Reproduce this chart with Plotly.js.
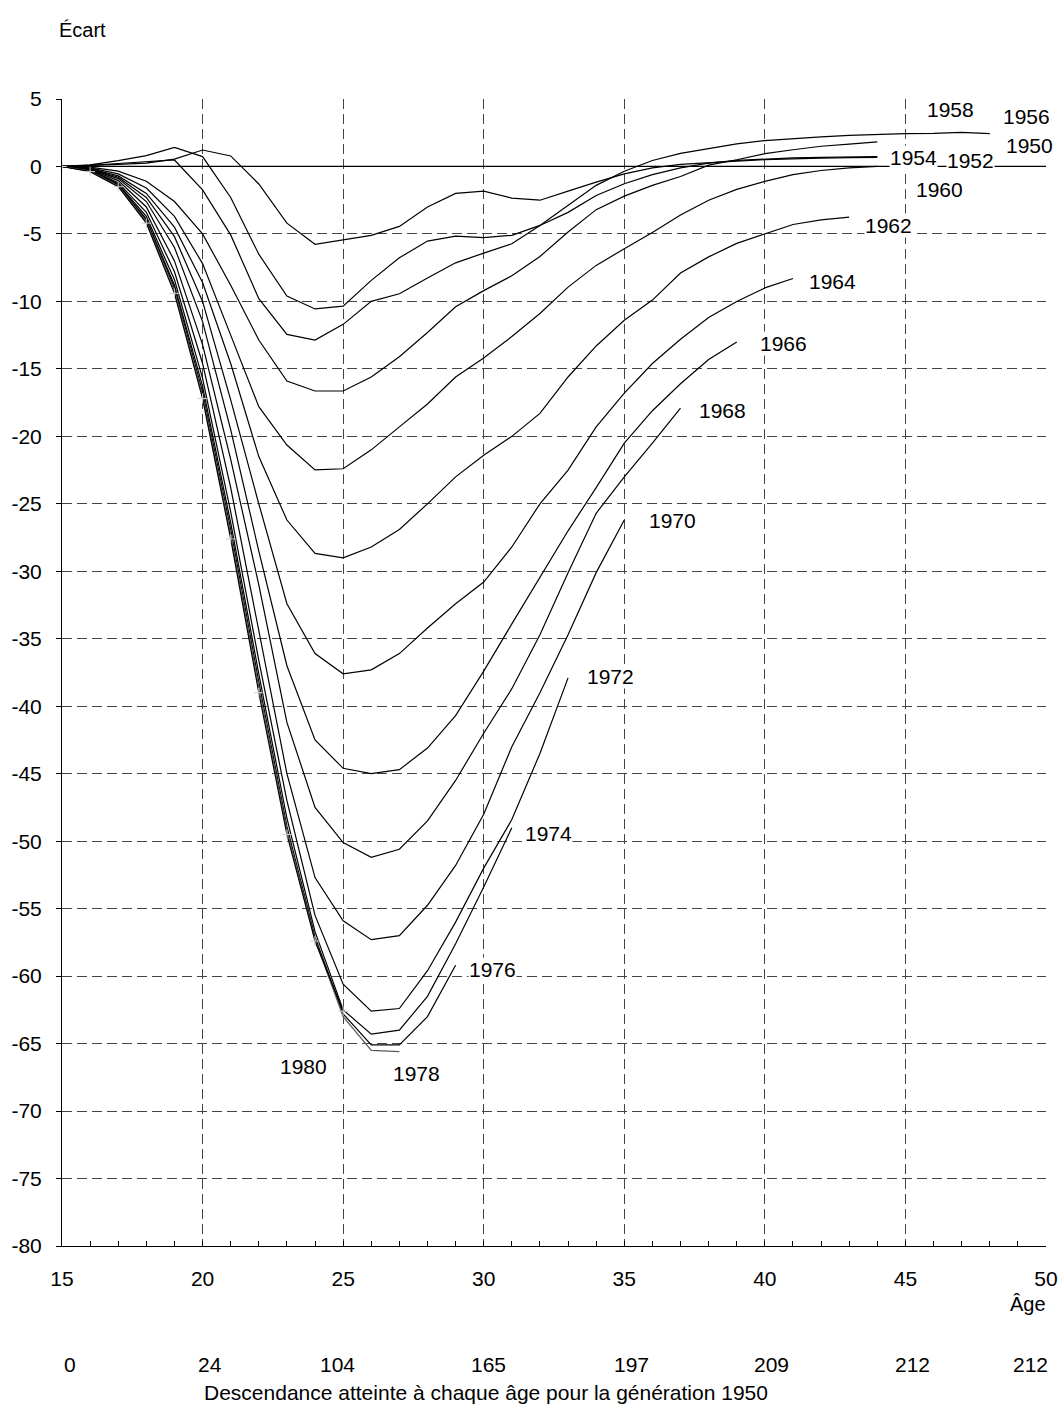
<!DOCTYPE html>
<html>
<head>
<meta charset="utf-8">
<script src="https://cdn.plot.ly/plotly-3.0.1.min.js"></script>
<style>html,body{margin:0;padding:0;background:#fff;}#chart{width:1063px;height:1405px;}</style>
</head>
<body>
<div id="chart"></div>
<script>
// Ages (x axis)
const ages = [15,16,17,18,19,20,21,22,23,24,25,26,27,28,29,30,31,32,33,34,35,36,37,38,39,40,41,42,43,44,45,46,47,48,49,50];

// Écart of cumulated fertility vs generation 1950, one array per generation, starting at age 15
const g1950 = [0,0,0,0,0,0,0,0,0,0,0,0,0,0,0,0,0,0,0,0,0,0,0,0,0,0,0,0,0,0,0,0,0,0,0,0];
const g1952 = [0,0.05,0.15,0.25,0.55,1.22,0.78,-1.3,-4.2,-5.77,-5.43,-5.1,-4.44,-3.0,-2.0,-1.83,-2.35,-2.5,-1.83,-1.16,-0.55,-0.1,0.15,0.3,0.4,0.5,0.58,0.62,0.65,0.67];
const g1954 = [0,0.12,0.43,0.8,1.42,0.73,-2.3,-6.5,-9.6,-10.56,-10.35,-8.44,-6.77,-5.53,-5.16,-5.28,-5.1,-4.37,-3.4,-2.15,-1.28,-0.6,-0.1,0.25,0.45,0.55,0.63,0.68,0.72,0.74];
const g1956 = [0,0.08,0.22,0.35,0.48,-1.74,-5.07,-9.8,-12.44,-12.86,-11.7,-10.0,-9.43,-8.27,-7.14,-6.42,-5.73,-4.37,-2.9,-1.4,-0.35,0.44,0.97,1.35,1.68,1.92,2.08,2.2,2.3,2.38,2.44,2.46,2.53,2.43];
const g1958 = [0,-0.05,-0.35,-1.1,-2.6,-5.0,-8.8,-12.86,-15.9,-16.64,-16.64,-15.6,-14.1,-12.3,-10.4,-9.2,-8.1,-6.67,-4.86,-3.2,-2.2,-1.4,-0.74,0.1,0.5,0.95,1.24,1.5,1.66,1.83];
const g1960 = [0,-0.1,-0.55,-1.6,-3.7,-7.2,-12.5,-17.8,-20.64,-22.49,-22.4,-21.0,-19.3,-17.6,-15.6,-14.2,-12.6,-10.9,-8.94,-7.33,-6.1,-4.9,-3.6,-2.5,-1.7,-1.1,-0.6,-0.3,-0.1,0];
const g1962 = [0,-0.15,-0.7,-2.0,-4.5,-8.6,-14.6,-21.5,-26.2,-28.67,-29.0,-28.2,-26.9,-25.0,-23.0,-21.4,-20.0,-18.3,-15.6,-13.3,-11.4,-9.9,-7.9,-6.7,-5.7,-5.0,-4.3,-3.96,-3.76];
const g1964 = [0,-0.18,-0.8,-2.3,-5.2,-10.0,-17.3,-25.0,-32.4,-36.1,-37.6,-37.3,-36.1,-34.2,-32.4,-30.8,-28.2,-25.0,-22.5,-19.3,-16.8,-14.6,-12.8,-11.2,-10.0,-9.0,-8.3];
const g1966 = [0,-0.2,-0.9,-2.6,-6.0,-11.5,-19.5,-28.5,-37.0,-42.5,-44.6,-45.0,-44.7,-43.1,-40.7,-37.4,-33.9,-30.5,-27.0,-23.8,-20.5,-18.1,-16.1,-14.3,-13.0];
const g1968 = [0,-0.22,-1.05,-3.0,-7.0,-13.2,-21.7,-31.0,-41.2,-47.5,-50.1,-51.2,-50.6,-48.5,-45.5,-42.0,-38.7,-34.7,-30.1,-25.7,-23.0,-20.5,-17.9];
const g1970 = [0,-0.25,-1.2,-3.4,-7.8,-14.6,-23.8,-34.3,-45.0,-52.7,-55.9,-57.3,-57.0,-54.75,-51.8,-48.0,-43.0,-39.0,-34.7,-30.1,-26.2];
const g1972 = [0,-0.28,-1.3,-3.7,-8.4,-15.7,-25.6,-36.6,-47.0,-55.5,-60.6,-62.6,-62.4,-59.6,-56.0,-52.0,-48.4,-43.5,-37.9];
const g1974 = [0,-0.3,-1.35,-3.9,-8.8,-16.3,-26.4,-37.6,-48.3,-56.7,-62.5,-64.3,-64.0,-61.5,-57.6,-53.4,-49.0];
const g1976 = [0,-0.33,-1.4,-4.0,-9.0,-16.7,-26.9,-38.2,-48.9,-57.1,-62.8,-65.1,-65.1,-63.0,-59.2];
const g1978 = [0,-0.35,-1.45,-4.1,-9.2,-17.0,-27.3,-38.6,-49.2,-57.3,-63.0,-65.5,-65.6];
const g1980 = [0,-0.38,-1.5,-4.2,-9.4,-17.2,-27.6,-39.0,-49.5,-57.4,-62.6];

// Y tick values and labels (hyphen-minus as in the original)
const yTickVals = [5,0,-5,-10,-15,-20,-25,-30,-35,-40,-45,-50,-55,-60,-65,-70,-75,-80];
const yTickText = ["5","0","-5","-10","-15","-20","-25","-30","-35","-40","-45","-50","-55","-60","-65","-70","-75","-80"];

// Label names and their places (age, écart)
const labelText = ["1958","1956","1950","1954","1952","1960","1962","1964","1966","1968","1970","1972","1974","1976","1978","1980"];
const labelAge  = [46.6, 49.3, 49.4, 45.3, 47.3, 46.2, 44.4, 42.4, 40.65, 38.5, 36.7, 34.5, 32.3, 30.3, 27.6, 23.6];
const labelVal  = [4.2, 3.7, 1.55, 0.65, 0.45, -1.74, -4.4, -8.5, -13.15, -18.1, -26.2, -37.8, -49.4, -59.5, -67.2, -66.7];

// Second axis row: descendance of generation 1950 at each 5-year age
const descAges = [15,20,25,30,35,40,45,50];
const descVals = ["0","24","104","165","197","209","212","212"];
const descShift = [8, 7, -6, 5, 7, 7, 7, -16];

const FONT = "Liberation Sans, Arial, Helvetica, sans-serif";

const series = [
  ["1950", g1950], ["1952", g1952], ["1954", g1954], ["1956", g1956], ["1958", g1958],
  ["1960", g1960], ["1962", g1962], ["1964", g1964], ["1966", g1966], ["1968", g1968],
  ["1970", g1970], ["1972", g1972], ["1974", g1974], ["1976", g1976], ["1978", g1978], ["1980", g1980]
];

const traces = series.map(([name, vals]) => {
  const t = {
    type: "scatter", mode: "lines", name: name,
    x: ages.slice(0, vals.length), y: vals,
    line: {color: name === "1978" ? "#5a5a5a" : "#000", width: 1.2},
    hoverinfo: "x+y+name"
  };
  if (name === "1980") {
    t.mode = "lines+markers";
    t.marker = {symbol: "cross-thin", size: 7, color: "#cfcfcf", line: {color: "#cfcfcf", width: 1}};
  }
  return t;
});

const annotations = labelText.map((txt, i) => ({
  x: labelAge[i], y: labelVal[i], xref: "x", yref: "y",
  text: txt, showarrow: false, bgcolor: "#fff", borderpad: 0,
  font: {family: FONT, size: 21, color: "#000"}
}));

descAges.forEach((a, i) => {
  annotations.push({
    x: a, y: -0.103, xref: "x", yref: "paper", text: descVals[i], showarrow: false,
    xshift: descShift[i], yanchor: "middle",
    font: {family: FONT, size: 21, color: "#000"}
  });
});

annotations.push({
  x: 20, y: -0.1275, xref: "x", yref: "paper", yanchor: "middle", xanchor: "left", xshift: -1,
  text: "Descendance atteinte à chaque âge pour la génération 1950", showarrow: false,
  font: {family: FONT, size: 21, color: "#000"}
});
annotations.push({
  x: 50, y: -0.0505, xref: "x", yref: "paper", yanchor: "middle", xanchor: "right", xshift: 2,
  text: "Âge", showarrow: false, font: {family: FONT, size: 20, color: "#000"}
});
annotations.push({
  x: 15, y: 1.0602, xref: "x", yref: "paper", yanchor: "middle", xanchor: "left", xshift: -5,
  text: "Écart", showarrow: false, font: {family: FONT, size: 20, color: "#000"}
});

const layout = {
  width: 1063, height: 1405,
  margin: {l: 62, r: 17, t: 99, b: 159, pad: 0},
  paper_bgcolor: "#fff", plot_bgcolor: "#fff",
  showlegend: false,
  font: {family: FONT, size: 21, color: "#000"},
  xaxis: {
    range: [15, 50], tick0: 15, dtick: 5, tickmode: "linear",
    showgrid: true, gridcolor: "#444", gridwidth: 1, griddash: "10px,5px",
    showline: true, linecolor: "#000", linewidth: 1,
    ticks: "inside", ticklen: 5, tickcolor: "#000",
    minor: {dtick: 1, ticks: "inside", ticklen: 5, tickcolor: "#000", showgrid: false},
    zeroline: false, ticklabelstandoff: 14,
    tickfont: {family: FONT, size: 21, color: "#000"}
  },
  yaxis: {
    range: [-80, 5], tickmode: "array", tickvals: yTickVals, ticktext: yTickText,
    showgrid: true, gridcolor: "#444", gridwidth: 1, griddash: "10px,5px",
    showline: true, linecolor: "#000", linewidth: 1,
    ticks: "outside", ticklen: 5, tickcolor: "#000",
    zeroline: false, ticklabelstandoff: 10,
    tickfont: {family: FONT, size: 21, color: "#000"}
  },
  annotations: annotations
};

Plotly.newPlot("chart", traces, layout, {displayModeBar: false, staticPlot: true});
</script>
</body>
</html>
